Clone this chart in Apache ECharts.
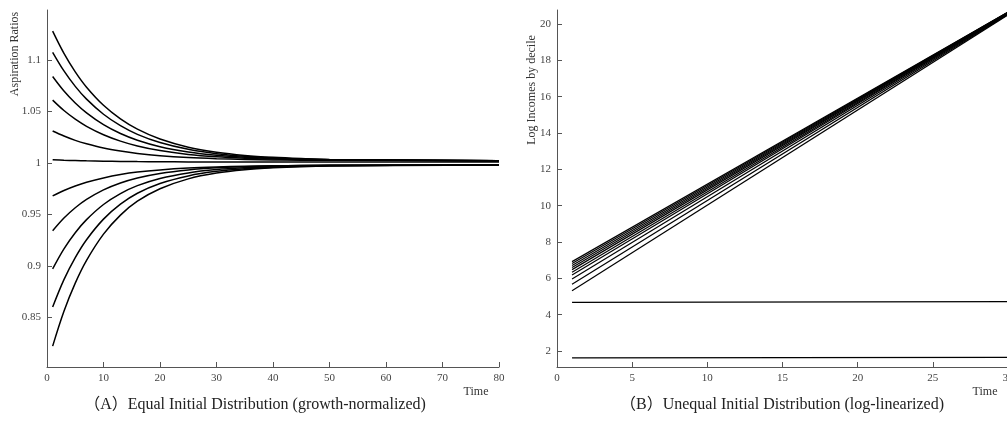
<!DOCTYPE html>
<html>
<head>
<meta charset="utf-8">
<script src="https://cdn.jsdelivr.net/npm/echarts@6/dist/echarts.min.js"></script>
<style>
html,body{margin:0;padding:0;background:#fff;}
#c{width:1007px;height:436px;}
</style>
</head>
<body>
<div id="c"></div>
<script>
// ---- Panel A: aspiration ratios (growth-normalized) ----
const timeA = [1, 3, 5, 7, 10, 13, 16, 20, 25, 30, 35, 40, 45, 50, 80];
const ratio1  = [1.1280, 1.1064, 1.0885, 1.0736, 1.0560, 1.0428, 1.0328, 1.0232, 1.0153, 1.0104, 1.0073, 1.0054, 1.0042, 1.0034, 1.0022];
const ratio2  = [1.1075, 1.0894, 1.0744, 1.0620, 1.0473, 1.0362, 1.0278, 1.0198, 1.0132, 1.0090, 1.0065, 1.0049, 1.0039, 1.0032, 1.0022];
const ratio3  = [1.0840, 1.0699, 1.0583, 1.0487, 1.0372, 1.0286, 1.0221, 1.0158, 1.0107, 1.0075, 1.0055, 1.0043, 1.0035, 1.0030, 1.0022];
const ratio4  = [1.0610, 1.0509, 1.0425, 1.0356, 1.0274, 1.0212, 1.0165, 1.0120, 1.0083, 1.0060, 1.0046, 1.0037, 1.0031, 1.0028, 1.0022];
const ratio5  = [1.0310, 1.0261, 1.0219, 1.0186, 1.0145, 1.0115, 1.0092, 1.0070, 1.0052, 1.0041, 1.0034, 1.0029, 1.0027, 1.0025, 1.0022];
const ratio6  = [1.0030, 1.0026, 1.0023, 1.0020, 1.0017, 1.0015, 1.0013, 1.0012, 1.0010, 1.0009, 1.0008, 1.0008, 1.0008, 1.0008, 1.0008];
const ratio7  = [0.9680, 0.9732, 0.9776, 0.9812, 0.9854, 0.9887, 0.9911, 0.9932, 0.9950, 0.9961, 0.9968, 0.9972, 0.9975, 0.9977, 0.9980];
const ratio8  = [0.9340, 0.9464, 0.9564, 0.9645, 0.9738, 0.9805, 0.9854, 0.9898, 0.9932, 0.9952, 0.9963, 0.9970, 0.9974, 0.9977, 0.9980];
const ratio9  = [0.8970, 0.9165, 0.9322, 0.9449, 0.9596, 0.9702, 0.9779, 0.9849, 0.9903, 0.9935, 0.9953, 0.9964, 0.9971, 0.9975, 0.9980];
const ratio10 = [0.8600, 0.8866, 0.9080, 0.9254, 0.9454, 0.9599, 0.9705, 0.9800, 0.9874, 0.9918, 0.9943, 0.9958, 0.9967, 0.9973, 0.9980];
const ratio11 = [0.8220, 0.8559, 0.8832, 0.9053, 0.9308, 0.9493, 0.9628, 0.9749, 0.9845, 0.9901, 0.9933, 0.9952, 0.9964, 0.9970, 0.9980];
const ticksA_y = [0.85, 0.9, 0.95, 1, 1.05, 1.1];

// ---- Panel B: log incomes by decile (log-linearized) ----
const timeB = [1, 30];
const decileStart = [6.92, 6.82, 6.71, 6.60, 6.48, 6.34, 6.18, 5.96, 5.68, 5.32];
const decileEnd   = [20.66, 20.65, 20.64, 20.63, 20.62, 20.60, 20.58, 20.56, 20.53, 20.50];
const flatHigh = [4.68, 4.72];
const flatLow  = [1.62, 1.65];
const ticksB_y = [2, 4, 6, 8, 10, 12, 14, 16, 18, 20];

const SERIF = '"Liberation Serif","DejaVu Serif",serif';
const CAPFONT = '"Liberation Serif","Noto Sans CJK SC",serif';
const axisGray = '#555';

const ratiosA = [ratio1, ratio2, ratio3, ratio4, ratio5, ratio6, ratio7, ratio8, ratio9, ratio10, ratio11];
const series = [];
ratiosA.forEach((arr) => {
  series.push({
    type: 'line', xAxisIndex: 0, yAxisIndex: 0, showSymbol: false, smooth: 0.35,
    data: timeA.map((t, i) => [t, arr[i]]),
    lineStyle: { color: '#000', width: 1.5 }, silent: true, animation: false
  });
});
decileStart.forEach((s, k) => {
  series.push({
    type: 'line', xAxisIndex: 1, yAxisIndex: 1, showSymbol: false,
    data: [[timeB[0], s], [timeB[1], decileEnd[k]]],
    lineStyle: { color: '#000', width: 1.2 }, silent: true, animation: false
  });
});
[flatHigh, flatLow].forEach((arr) => {
  series.push({
    type: 'line', xAxisIndex: 1, yAxisIndex: 1, showSymbol: false,
    data: timeB.map((t, i) => [t, arr[i]]),
    lineStyle: { color: '#000', width: 1.3 }, silent: true, animation: false
  });
});

function xAx(gridIndex, max, interval) {
  return {
    type: 'value', gridIndex, min: 0, max, interval,
    axisLine: { show: true, onZero: false, lineStyle: { color: axisGray, width: 1 } },
    axisTick: { show: true, inside: true, length: 5, lineStyle: { color: axisGray } },
    axisLabel: { color: '#444', fontFamily: SERIF, fontSize: 11, margin: 6 },
    splitLine: { show: false }
  };
}
function yAx(gridIndex, min, max, ticks, fmt) {
  return {
    type: 'value', gridIndex, min, max,
    axisLine: { show: true, onZero: false, lineStyle: { color: axisGray, width: 1 } },
    axisTick: { show: true, inside: true, length: 5, lineStyle: { color: axisGray }, customValues: ticks },
    axisLabel: { color: '#444', fontFamily: SERIF, fontSize: 11, margin: 6, customValues: ticks, formatter: fmt },
    splitLine: { show: false }
  };
}

const chart = echarts.init(document.getElementById('c'), null, { renderer: 'canvas' });
chart.setOption({
  backgroundColor: '#fff',
  animation: false,
  grid: [
    { left: 47, right: 508, top: 10, bottom: 69, containLabel: false, outerBoundsMode: 'none' },
    { left: 557, right: -1, top: 10, bottom: 69, containLabel: false, outerBoundsMode: 'none' }
  ],
  xAxis: [xAx(0, 80, 10), xAx(1, 30, 5)],
  yAxis: [
    yAx(0, 0.8017, 1.1486, ticksA_y, (v) => String(+v.toFixed(2))),
    yAx(1, 1.12, 20.77, ticksB_y, (v) => String(Math.round(v)))
  ],
  series,
  graphic: [
    { type: 'text', x: 15, y: 54, rotation: Math.PI / 2,
      style: { text: 'Aspiration Ratios', font: '12px ' + SERIF, fill: '#333', align: 'center', verticalAlign: 'middle' } },
    { type: 'text', x: 532, y: 90, rotation: Math.PI / 2,
      style: { text: 'Log Incomes by decile', font: '12px ' + SERIF, fill: '#333', align: 'center', verticalAlign: 'middle' } },
    { type: 'text', x: 476, y: 392,
      style: { text: 'Time', font: '12px ' + SERIF, fill: '#333', align: 'center', verticalAlign: 'middle' } },
    { type: 'text', x: 985, y: 392,
      style: { text: 'Time', font: '12px ' + SERIF, fill: '#333', align: 'center', verticalAlign: 'middle' } },
    { type: 'text', x: 255, y: 405,
      style: { text: '（A）Equal Initial Distribution (growth-normalized)', font: '16px ' + CAPFONT, fill: '#222', align: 'center', verticalAlign: 'middle' } },
    { type: 'text', x: 782, y: 405,
      style: { text: '（B）Unequal Initial Distribution (log-linearized)', font: '16px ' + CAPFONT, fill: '#222', align: 'center', verticalAlign: 'middle' } }
  ]
});
</script>
</body>
</html>
